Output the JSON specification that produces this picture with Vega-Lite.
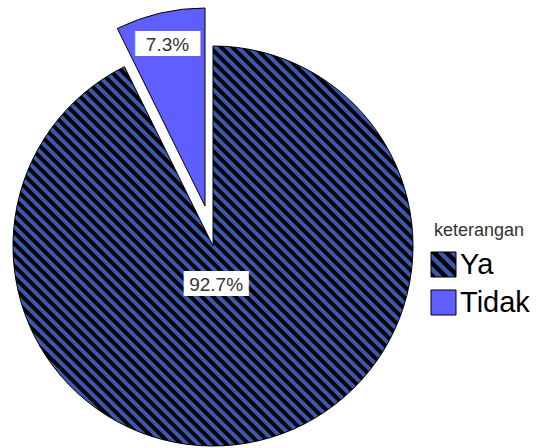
{
  "$schema": "https://vega.github.io/schema/vega-lite/v6.json",
  "width": 426,
  "height": 448,
  "autosize": {"type": "none"},
  "padding": {"left": 0, "top": 0, "right": 110, "bottom": 0},
  "background": "white",
  "config": {"view": {"stroke": null}},
  "data": {"values": [
    {"keterangan": "Ya", "nilai": 0.927, "urutan": 1},
    {"keterangan": "Tidak", "nilai": 0.073, "urutan": 2}
  ]},
  "encoding": {
    "theta": {"field": "nilai", "type": "quantitative", "stack": true},
    "order": {"field": "urutan", "type": "quantitative"}
  },
  "layer": [
    {
      "mark": {"type": "arc", "outerRadius": 200, "xOffset": 0, "yOffset": 22, "stroke": "#000", "strokeWidth": 1,
        "fill": {"gradient": "linear", "x1": 0, "y1": 1, "x2": 1, "y2": 0, "stops": [
              {"offset": 0, "color": "#000"}, {"offset": 0.0056, "color": "#000"}, {"offset": 0.007, "color": "#3b57b0"}, {"offset": 0.0126, "color": "#3b57b0"},
              {"offset": 0.014, "color": "#000"}, {"offset": 0.0196, "color": "#000"}, {"offset": 0.021, "color": "#3b57b0"}, {"offset": 0.0266, "color": "#3b57b0"},
              {"offset": 0.028, "color": "#000"}, {"offset": 0.0336, "color": "#000"}, {"offset": 0.035, "color": "#3b57b0"}, {"offset": 0.0406, "color": "#3b57b0"},
              {"offset": 0.042, "color": "#000"}, {"offset": 0.0476, "color": "#000"}, {"offset": 0.049, "color": "#3b57b0"}, {"offset": 0.0546, "color": "#3b57b0"},
              {"offset": 0.056, "color": "#000"}, {"offset": 0.0616, "color": "#000"}, {"offset": 0.063, "color": "#3b57b0"}, {"offset": 0.0686, "color": "#3b57b0"},
              {"offset": 0.07, "color": "#000"}, {"offset": 0.0756, "color": "#000"}, {"offset": 0.077, "color": "#3b57b0"}, {"offset": 0.0826, "color": "#3b57b0"},
              {"offset": 0.084, "color": "#000"}, {"offset": 0.0896, "color": "#000"}, {"offset": 0.091, "color": "#3b57b0"}, {"offset": 0.0966, "color": "#3b57b0"},
              {"offset": 0.098, "color": "#000"}, {"offset": 0.1036, "color": "#000"}, {"offset": 0.105, "color": "#3b57b0"}, {"offset": 0.1106, "color": "#3b57b0"},
              {"offset": 0.112, "color": "#000"}, {"offset": 0.1176, "color": "#000"}, {"offset": 0.119, "color": "#3b57b0"}, {"offset": 0.1246, "color": "#3b57b0"},
              {"offset": 0.126, "color": "#000"}, {"offset": 0.1316, "color": "#000"}, {"offset": 0.133, "color": "#3b57b0"}, {"offset": 0.1386, "color": "#3b57b0"},
              {"offset": 0.14, "color": "#000"}, {"offset": 0.1456, "color": "#000"}, {"offset": 0.147, "color": "#3b57b0"}, {"offset": 0.1526, "color": "#3b57b0"},
              {"offset": 0.154, "color": "#000"}, {"offset": 0.1596, "color": "#000"}, {"offset": 0.161, "color": "#3b57b0"}, {"offset": 0.1666, "color": "#3b57b0"},
              {"offset": 0.168, "color": "#000"}, {"offset": 0.1736, "color": "#000"}, {"offset": 0.175, "color": "#3b57b0"}, {"offset": 0.1806, "color": "#3b57b0"},
              {"offset": 0.182, "color": "#000"}, {"offset": 0.1876, "color": "#000"}, {"offset": 0.189, "color": "#3b57b0"}, {"offset": 0.1946, "color": "#3b57b0"},
              {"offset": 0.196, "color": "#000"}, {"offset": 0.2016, "color": "#000"}, {"offset": 0.203, "color": "#3b57b0"}, {"offset": 0.2086, "color": "#3b57b0"},
              {"offset": 0.21, "color": "#000"}, {"offset": 0.2156, "color": "#000"}, {"offset": 0.217, "color": "#3b57b0"}, {"offset": 0.2226, "color": "#3b57b0"},
              {"offset": 0.224, "color": "#000"}, {"offset": 0.2296, "color": "#000"}, {"offset": 0.231, "color": "#3b57b0"}, {"offset": 0.2366, "color": "#3b57b0"},
              {"offset": 0.238, "color": "#000"}, {"offset": 0.2436, "color": "#000"}, {"offset": 0.245, "color": "#3b57b0"}, {"offset": 0.2506, "color": "#3b57b0"},
              {"offset": 0.252, "color": "#000"}, {"offset": 0.2576, "color": "#000"}, {"offset": 0.259, "color": "#3b57b0"}, {"offset": 0.2646, "color": "#3b57b0"},
              {"offset": 0.266, "color": "#000"}, {"offset": 0.2716, "color": "#000"}, {"offset": 0.273, "color": "#3b57b0"}, {"offset": 0.2786, "color": "#3b57b0"},
              {"offset": 0.28, "color": "#000"}, {"offset": 0.2856, "color": "#000"}, {"offset": 0.287, "color": "#3b57b0"}, {"offset": 0.2926, "color": "#3b57b0"},
              {"offset": 0.294, "color": "#000"}, {"offset": 0.2996, "color": "#000"}, {"offset": 0.301, "color": "#3b57b0"}, {"offset": 0.3066, "color": "#3b57b0"},
              {"offset": 0.308, "color": "#000"}, {"offset": 0.3136, "color": "#000"}, {"offset": 0.315, "color": "#3b57b0"}, {"offset": 0.3206, "color": "#3b57b0"},
              {"offset": 0.322, "color": "#000"}, {"offset": 0.3276, "color": "#000"}, {"offset": 0.329, "color": "#3b57b0"}, {"offset": 0.3346, "color": "#3b57b0"},
              {"offset": 0.336, "color": "#000"}, {"offset": 0.3416, "color": "#000"}, {"offset": 0.343, "color": "#3b57b0"}, {"offset": 0.3486, "color": "#3b57b0"},
              {"offset": 0.35, "color": "#000"}, {"offset": 0.3556, "color": "#000"}, {"offset": 0.357, "color": "#3b57b0"}, {"offset": 0.3626, "color": "#3b57b0"},
              {"offset": 0.364, "color": "#000"}, {"offset": 0.3696, "color": "#000"}, {"offset": 0.371, "color": "#3b57b0"}, {"offset": 0.3766, "color": "#3b57b0"},
              {"offset": 0.378, "color": "#000"}, {"offset": 0.3836, "color": "#000"}, {"offset": 0.385, "color": "#3b57b0"}, {"offset": 0.3906, "color": "#3b57b0"},
              {"offset": 0.392, "color": "#000"}, {"offset": 0.3976, "color": "#000"}, {"offset": 0.399, "color": "#3b57b0"}, {"offset": 0.4046, "color": "#3b57b0"},
              {"offset": 0.406, "color": "#000"}, {"offset": 0.4116, "color": "#000"}, {"offset": 0.413, "color": "#3b57b0"}, {"offset": 0.4186, "color": "#3b57b0"},
              {"offset": 0.42, "color": "#000"}, {"offset": 0.4256, "color": "#000"}, {"offset": 0.427, "color": "#3b57b0"}, {"offset": 0.4326, "color": "#3b57b0"},
              {"offset": 0.434, "color": "#000"}, {"offset": 0.4396, "color": "#000"}, {"offset": 0.441, "color": "#3b57b0"}, {"offset": 0.4466, "color": "#3b57b0"},
              {"offset": 0.448, "color": "#000"}, {"offset": 0.4536, "color": "#000"}, {"offset": 0.455, "color": "#3b57b0"}, {"offset": 0.4606, "color": "#3b57b0"},
              {"offset": 0.462, "color": "#000"}, {"offset": 0.4676, "color": "#000"}, {"offset": 0.469, "color": "#3b57b0"}, {"offset": 0.4746, "color": "#3b57b0"},
              {"offset": 0.476, "color": "#000"}, {"offset": 0.4816, "color": "#000"}, {"offset": 0.483, "color": "#3b57b0"}, {"offset": 0.4886, "color": "#3b57b0"},
              {"offset": 0.49, "color": "#000"}, {"offset": 0.4956, "color": "#000"}, {"offset": 0.497, "color": "#3b57b0"}, {"offset": 0.5026, "color": "#3b57b0"},
              {"offset": 0.504, "color": "#000"}, {"offset": 0.5096, "color": "#000"}, {"offset": 0.511, "color": "#3b57b0"}, {"offset": 0.5166, "color": "#3b57b0"},
              {"offset": 0.518, "color": "#000"}, {"offset": 0.5236, "color": "#000"}, {"offset": 0.525, "color": "#3b57b0"}, {"offset": 0.5306, "color": "#3b57b0"},
              {"offset": 0.532, "color": "#000"}, {"offset": 0.5376, "color": "#000"}, {"offset": 0.539, "color": "#3b57b0"}, {"offset": 0.5446, "color": "#3b57b0"},
              {"offset": 0.546, "color": "#000"}, {"offset": 0.5516, "color": "#000"}, {"offset": 0.553, "color": "#3b57b0"}, {"offset": 0.5586, "color": "#3b57b0"},
              {"offset": 0.56, "color": "#000"}, {"offset": 0.5656, "color": "#000"}, {"offset": 0.567, "color": "#3b57b0"}, {"offset": 0.5726, "color": "#3b57b0"},
              {"offset": 0.574, "color": "#000"}, {"offset": 0.5796, "color": "#000"}, {"offset": 0.581, "color": "#3b57b0"}, {"offset": 0.5866, "color": "#3b57b0"},
              {"offset": 0.588, "color": "#000"}, {"offset": 0.5936, "color": "#000"}, {"offset": 0.595, "color": "#3b57b0"}, {"offset": 0.6006, "color": "#3b57b0"},
              {"offset": 0.602, "color": "#000"}, {"offset": 0.6076, "color": "#000"}, {"offset": 0.609, "color": "#3b57b0"}, {"offset": 0.6146, "color": "#3b57b0"},
              {"offset": 0.616, "color": "#000"}, {"offset": 0.6216, "color": "#000"}, {"offset": 0.623, "color": "#3b57b0"}, {"offset": 0.6286, "color": "#3b57b0"},
              {"offset": 0.63, "color": "#000"}, {"offset": 0.6356, "color": "#000"}, {"offset": 0.637, "color": "#3b57b0"}, {"offset": 0.6426, "color": "#3b57b0"},
              {"offset": 0.644, "color": "#000"}, {"offset": 0.6496, "color": "#000"}, {"offset": 0.651, "color": "#3b57b0"}, {"offset": 0.6566, "color": "#3b57b0"},
              {"offset": 0.658, "color": "#000"}, {"offset": 0.6636, "color": "#000"}, {"offset": 0.665, "color": "#3b57b0"}, {"offset": 0.6706, "color": "#3b57b0"},
              {"offset": 0.672, "color": "#000"}, {"offset": 0.6776, "color": "#000"}, {"offset": 0.679, "color": "#3b57b0"}, {"offset": 0.6846, "color": "#3b57b0"},
              {"offset": 0.686, "color": "#000"}, {"offset": 0.6916, "color": "#000"}, {"offset": 0.693, "color": "#3b57b0"}, {"offset": 0.6986, "color": "#3b57b0"},
              {"offset": 0.7, "color": "#000"}, {"offset": 0.7056, "color": "#000"}, {"offset": 0.707, "color": "#3b57b0"}, {"offset": 0.7126, "color": "#3b57b0"},
              {"offset": 0.714, "color": "#000"}, {"offset": 0.7196, "color": "#000"}, {"offset": 0.721, "color": "#3b57b0"}, {"offset": 0.7266, "color": "#3b57b0"},
              {"offset": 0.728, "color": "#000"}, {"offset": 0.7336, "color": "#000"}, {"offset": 0.735, "color": "#3b57b0"}, {"offset": 0.7406, "color": "#3b57b0"},
              {"offset": 0.742, "color": "#000"}, {"offset": 0.7476, "color": "#000"}, {"offset": 0.749, "color": "#3b57b0"}, {"offset": 0.7546, "color": "#3b57b0"},
              {"offset": 0.756, "color": "#000"}, {"offset": 0.7616, "color": "#000"}, {"offset": 0.763, "color": "#3b57b0"}, {"offset": 0.7686, "color": "#3b57b0"},
              {"offset": 0.77, "color": "#000"}, {"offset": 0.7756, "color": "#000"}, {"offset": 0.777, "color": "#3b57b0"}, {"offset": 0.7826, "color": "#3b57b0"},
              {"offset": 0.784, "color": "#000"}, {"offset": 0.7896, "color": "#000"}, {"offset": 0.791, "color": "#3b57b0"}, {"offset": 0.7966, "color": "#3b57b0"},
              {"offset": 0.798, "color": "#000"}, {"offset": 0.8036, "color": "#000"}, {"offset": 0.805, "color": "#3b57b0"}, {"offset": 0.8106, "color": "#3b57b0"},
              {"offset": 0.812, "color": "#000"}, {"offset": 0.8176, "color": "#000"}, {"offset": 0.819, "color": "#3b57b0"}, {"offset": 0.8246, "color": "#3b57b0"},
              {"offset": 0.826, "color": "#000"}, {"offset": 0.8316, "color": "#000"}, {"offset": 0.833, "color": "#3b57b0"}, {"offset": 0.8386, "color": "#3b57b0"},
              {"offset": 0.84, "color": "#000"}, {"offset": 0.8456, "color": "#000"}, {"offset": 0.847, "color": "#3b57b0"}, {"offset": 0.8526, "color": "#3b57b0"},
              {"offset": 0.854, "color": "#000"}, {"offset": 0.8596, "color": "#000"}, {"offset": 0.861, "color": "#3b57b0"}, {"offset": 0.8666, "color": "#3b57b0"},
              {"offset": 0.868, "color": "#000"}, {"offset": 0.8736, "color": "#000"}, {"offset": 0.875, "color": "#3b57b0"}, {"offset": 0.8806, "color": "#3b57b0"},
              {"offset": 0.882, "color": "#000"}, {"offset": 0.8876, "color": "#000"}, {"offset": 0.889, "color": "#3b57b0"}, {"offset": 0.8946, "color": "#3b57b0"},
              {"offset": 0.896, "color": "#000"}, {"offset": 0.9016, "color": "#000"}, {"offset": 0.903, "color": "#3b57b0"}, {"offset": 0.9086, "color": "#3b57b0"},
              {"offset": 0.91, "color": "#000"}, {"offset": 0.9156, "color": "#000"}, {"offset": 0.917, "color": "#3b57b0"}, {"offset": 0.9226, "color": "#3b57b0"},
              {"offset": 0.924, "color": "#000"}, {"offset": 0.9296, "color": "#000"}, {"offset": 0.931, "color": "#3b57b0"}, {"offset": 0.9366, "color": "#3b57b0"},
              {"offset": 0.938, "color": "#000"}, {"offset": 0.9436, "color": "#000"}, {"offset": 0.945, "color": "#3b57b0"}, {"offset": 0.9506, "color": "#3b57b0"},
              {"offset": 0.952, "color": "#000"}, {"offset": 0.9576, "color": "#000"}, {"offset": 0.959, "color": "#3b57b0"}, {"offset": 0.9646, "color": "#3b57b0"},
              {"offset": 0.966, "color": "#000"}, {"offset": 0.9716, "color": "#000"}, {"offset": 0.973, "color": "#3b57b0"}, {"offset": 0.9786, "color": "#3b57b0"},
              {"offset": 0.98, "color": "#000"}, {"offset": 0.9856, "color": "#000"}, {"offset": 0.987, "color": "#3b57b0"}, {"offset": 0.9926, "color": "#3b57b0"},
              {"offset": 0.994, "color": "#000"}, {"offset": 1, "color": "#000"}
        ]}
      },
      "encoding": {
        "detail": {"field": "keterangan", "type": "nominal"},
        "opacity": {"condition": {"test": "datum.keterangan === 'Ya'", "value": 1}, "value": 0}
      }
    },
    {
      "mark": {"type": "arc", "outerRadius": 198, "xOffset": -8, "yOffset": -18, "stroke": "#000", "strokeWidth": 1},
      "encoding": {
        "color": {
          "field": "keterangan", "type": "nominal",
          "scale": {"domain": ["Ya", "Tidak"], "range": [
            {"expr": "{gradient: 'linear', x1: 0, y1: 1, x2: 1, y2: 0, stops: [{offset: 0, color: '#000'}, {offset: 0.1, color: '#000'}, {offset: 0.125, color: '#3b57b0'}, {offset: 0.225, color: '#3b57b0'}, {offset: 0.25, color: '#000'}, {offset: 0.35, color: '#000'}, {offset: 0.375, color: '#3b57b0'}, {offset: 0.475, color: '#3b57b0'}, {offset: 0.5, color: '#000'}, {offset: 0.6, color: '#000'}, {offset: 0.625, color: '#3b57b0'}, {offset: 0.725, color: '#3b57b0'}, {offset: 0.75, color: '#000'}, {offset: 0.85, color: '#000'}, {offset: 0.875, color: '#3b57b0'}, {offset: 0.975, color: '#3b57b0'}, {offset: 1, color: '#000'}]}"},
            "#5f5fff"
          ]},
          "legend": {
            "orient": "none", "legendX": 429, "legendY": 222,
            "title": "keterangan", "titleFontSize": 18, "titleFontWeight": "normal", "titleColor": "#333", "titleFont": "Liberation Sans",
            "titleAnchor": "middle", "titlePadding": 10,
            "labelFontSize": 29, "labelFont": "Liberation Sans", "labelColor": "#000", "labelOffset": 2,
            "symbolType": "square", "symbolSize": 625, "symbolStrokeColor": "#000", "symbolStrokeWidth": 1, "symbolOpacity": 1, "rowPadding": 8
          }
        },
        "opacity": {"condition": {"test": "datum.keterangan === 'Tidak'", "value": 1}, "value": 0}
      }
    },
    {
      "mark": {"type": "text", "radius": 40, "xOffset": -6, "yOffset": 22, "font": "DejaVu Sans", "fontSize": 21, "fill": "white", "align": "center", "baseline": "middle", "text": "████"},
      "encoding": {
        "detail": {"field": "keterangan", "type": "nominal"},
        "opacity": {"condition": {"test": "datum.keterangan === 'Ya'", "value": 1}, "value": 0}
      }
    },
    {
      "mark": {"type": "text", "radius": 40, "xOffset": -6, "yOffset": 22, "font": "Liberation Sans", "fontSize": 19, "fill": "#333", "align": "center", "baseline": "middle"},
      "encoding": {
        "detail": {"field": "keterangan", "type": "nominal"},
        "text": {"field": "nilai", "type": "quantitative", "format": ".1%"},
        "opacity": {"condition": {"test": "datum.keterangan === 'Ya'", "value": 1}, "value": 0}
      }
    },
    {
      "mark": {"type": "text", "radius": 165, "xOffset": -8, "yOffset": -18, "font": "DejaVu Sans", "fontSize": 21, "fill": "white", "align": "center", "baseline": "middle", "text": "████"},
      "encoding": {
        "detail": {"field": "keterangan", "type": "nominal"},
        "opacity": {"condition": {"test": "datum.keterangan === 'Tidak'", "value": 1}, "value": 0}
      }
    },
    {
      "mark": {"type": "text", "radius": 165, "xOffset": -8, "yOffset": -18, "font": "Liberation Sans", "fontSize": 19, "fill": "#333", "align": "center", "baseline": "middle"},
      "encoding": {
        "detail": {"field": "keterangan", "type": "nominal"},
        "text": {"field": "nilai", "type": "quantitative", "format": ".1%"},
        "opacity": {"condition": {"test": "datum.keterangan === 'Tidak'", "value": 1}, "value": 0}
      }
    }
  ]
}
